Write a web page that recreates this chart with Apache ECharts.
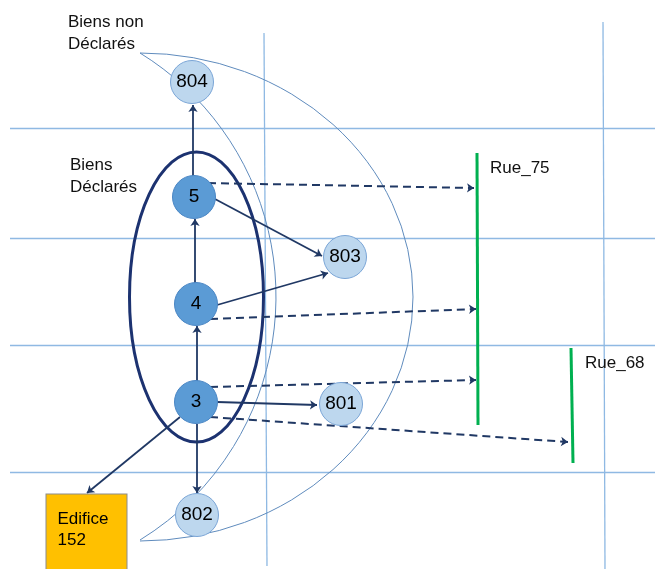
<!DOCTYPE html>
<html><head><meta charset="utf-8">
<script src="https://cdn.jsdelivr.net/npm/echarts@6/dist/echarts.min.js"></script>
<style>html,body{margin:0;padding:0;background:#fff}#c{width:655px;height:569px}</style>
</head><body><div id="c"></div>
<script>
// ---- data (diagram coordinates) ----
const hGridY = [128, 238, 345, 472];
const hGridX = [10, 655];
const vGrid = [[264, 33, 267, 566], [603, 22, 605, 569]];

const nodeNames = ['804', '5', '803', '4', '3', '801', '802'];
const nodeX = [192, 194, 345, 196, 196, 341, 197];
const nodeY = [82, 197, 257, 304, 402, 404, 515];
const nodeDeclared = [false, true, false, true, true, false, false];

const edificeName = 'Edifice\n152';
const edificeXY = [86.5, 534];

const solidArrows = [
  [[193, 178], [193, 105]],
  [[195, 283], [195, 219]],
  [[197, 381], [197, 326]],
  [[197, 424], [197, 493]],
  [[215, 199], [322, 256]],
  [[217, 305], [328, 273]],
  [[217, 402], [317, 405]],
  [[180, 417], [87, 493]]
];
const dashedArrows = [
  [[208, 183], [474, 188]],
  [[210, 319], [476, 309]],
  [[210, 387], [476, 380]],
  [[210, 417], [568, 442]]
];
const streets = [
  [[477, 153], [478, 425]],
  [[571, 348], [573, 463]]
];
const labelTexts = ['Biens non\nDéclarés', 'Biens\nDéclarés', 'Rue_75', 'Rue_68'];
const labelXY = [[68, 11], [70, 154], [490, 157], [585, 352]];

// arcs: start point then arc segments [rx, ry, largeArc, sweep, endX, endY]
const arcShapes = [
  { start: [140, 53], segs: [[286, 286, 0, 1, 140, 540]], stroke: '#5f8bbd', width: 1 },
  { start: [140, 53], segs: [[273, 244, 0, 1, 413, 297], [273, 244, 0, 1, 140, 541]], stroke: '#5f8bbd', width: 1 },
  { start: [196.5, 152], segs: [[67, 145, 0, 1, 196.5, 442], [67, 145, 0, 1, 196.5, 152]], stroke: '#1c3270', width: 3 }
];

// ---- chart ----
const NAVY = '#203864';
const chart = echarts.init(document.getElementById('c'), null, { renderer: 'canvas' });

const gridLineData = hGridY.map(y => ({ coords: [[hGridX[0], y], [hGridX[1], y]] }))
  .concat(vGrid.map(v => ({ coords: [[v[0], v[1]], [v[2], v[3]]] })));

const nodeData = nodeNames.map((n, i) => ({
  name: n,
  value: [nodeX[i], nodeY[i]],
  itemStyle: nodeDeclared[i]
    ? { color: '#5b9bd5', borderColor: '#4a86c4', borderWidth: 1, opacity: 1 }
    : { color: '#bdd7ee', borderColor: '#7aa5d6', borderWidth: 1, opacity: 1 }
}));

chart.setOption({
  animation: false,
  grid: { left: 0, right: 0, top: 0, bottom: 0 },
  xAxis: { type: 'value', min: 0, max: 655, show: false },
  yAxis: { type: 'value', min: 0, max: 569, inverse: true, show: false },
  series: [
    {
      type: 'lines', coordinateSystem: 'cartesian2d', silent: true, z: 1,
      lineStyle: { color: '#8fb9e3', width: 1.3, opacity: 1 },
      symbol: ['none', 'none'],
      data: gridLineData
    },
    {
      type: 'custom', coordinateSystem: 'cartesian2d', silent: true, z: 2,
      data: arcShapes.map(s => s.start),
      renderItem: function (params, api) {
        const s = arcShapes[params.dataIndex];
        const p0 = api.coord(s.start);
        let d = 'M ' + p0[0] + ' ' + p0[1];
        s.segs.forEach(g => {
          const r = api.size([g[0], g[1]], [g[4], g[5]]);
          const p = api.coord([g[4], g[5]]);
          d += ' A ' + r[0] + ' ' + r[1] + ' 0 ' + g[2] + ' ' + g[3] + ' ' + p[0] + ' ' + p[1];
        });
        return {
          type: 'path',
          shape: { pathData: d },
          style: { fill: 'none', stroke: s.stroke, lineWidth: s.width }
        };
      }
    },
    {
      type: 'lines', coordinateSystem: 'cartesian2d', silent: true, z: 3,
      lineStyle: { color: '#00b050', width: 3, opacity: 1 },
      symbol: ['none', 'none'],
      data: streets.map(c => ({ coords: c }))
    },
    {
      type: 'lines', coordinateSystem: 'cartesian2d', silent: true, z: 4,
      lineStyle: { color: NAVY, width: 1.8, opacity: 1 },
      symbol: ['none', 'arrow'], symbolSize: 7,
      data: solidArrows.map(c => ({ coords: c }))
    },
    {
      type: 'lines', coordinateSystem: 'cartesian2d', silent: true, z: 4,
      lineStyle: { color: NAVY, width: 2, type: [8, 5], opacity: 1 },
      symbol: ['none', 'arrow'], symbolSize: 7,
      data: dashedArrows.map(c => ({ coords: c }))
    },
    {
      type: 'scatter', coordinateSystem: 'cartesian2d', silent: true, z: 5,
      symbol: 'circle', symbolSize: 43,
      label: {
        show: true, position: 'inside', formatter: '{b}',
        color: '#000', fontSize: 19, fontFamily: 'Liberation Sans'
      },
      data: nodeData
    },
    {
      type: 'scatter', coordinateSystem: 'cartesian2d', silent: true, z: 5,
      symbol: 'rect', symbolSize: [81, 80],
      itemStyle: { color: '#ffc000', borderColor: '#8c8c8c', borderWidth: 1, opacity: 1 },
      label: {
        show: true, position: 'insideTopLeft', distance: 0, offset: [12, 15],
        formatter: '{b}', color: '#000', fontSize: 17, lineHeight: 21,
        fontFamily: 'Liberation Sans'
      },
      data: [{ name: edificeName, value: edificeXY }]
    },
    {
      type: 'custom', coordinateSystem: 'cartesian2d', silent: true, z: 6,
      data: labelXY,
      renderItem: function (params, api) {
        const p = api.coord(labelXY[params.dataIndex]);
        return {
          type: 'text', x: p[0], y: p[1],
          style: {
            text: labelTexts[params.dataIndex], fill: '#111',
            fontSize: 17, fontFamily: 'Liberation Sans', lineHeight: 22,
            align: 'left', verticalAlign: 'top'
          }
        };
      }
    }
  ]
});
</script></body></html>
